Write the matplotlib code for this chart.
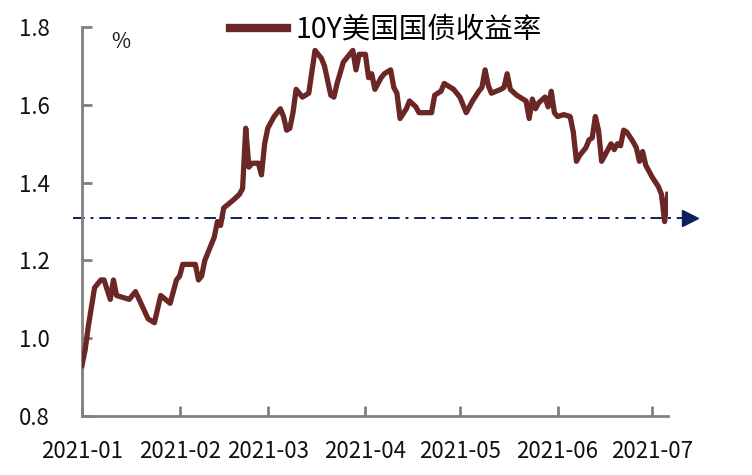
import numpy as np
import pandas as pd
import matplotlib
matplotlib.use("Agg")
from matplotlib import pyplot as plt
import matplotlib.dates as mdates

plt.rcParams['font.family'] = ['Noto Sans CJK SC', 'DejaVu Sans']

#---------------- data ----------------

dates = ["2021-01-01", "2021-01-02", "2021-01-03", "2021-01-05", "2021-01-07",
         "2021-01-08", "2021-01-10", "2021-01-11", "2021-01-12", "2021-01-16",
         "2021-01-18", "2021-01-22", "2021-01-24", "2021-01-26", "2021-01-29",
         "2021-01-31", "2021-02-01", "2021-02-02", "2021-02-06", "2021-02-07",
         "2021-02-08", "2021-02-09", "2021-02-12", "2021-02-13", "2021-02-14",
         "2021-02-15", "2021-02-18", "2021-02-20", "2021-02-21", "2021-02-22",
         "2021-02-23", "2021-02-24", "2021-02-26", "2021-02-27", "2021-02-28",
         "2021-03-01", "2021-03-03", "2021-03-05", "2021-03-06", "2021-03-07",
         "2021-03-08", "2021-03-09", "2021-03-10", "2021-03-11", "2021-03-12",
         "2021-03-14", "2021-03-16", "2021-03-18", "2021-03-19", "2021-03-21",
         "2021-03-22", "2021-03-23", "2021-03-25", "2021-03-27", "2021-03-28",
         "2021-03-29", "2021-03-30", "2021-04-01", "2021-04-02", "2021-04-03",
         "2021-04-04", "2021-04-06", "2021-04-07", "2021-04-09", "2021-04-10",
         "2021-04-11", "2021-04-12", "2021-04-14", "2021-04-15", "2021-04-17",
         "2021-04-18", "2021-04-22", "2021-04-23", "2021-04-25", "2021-04-26",
         "2021-04-27", "2021-04-29", "2021-05-01", "2021-05-03", "2021-05-05",
         "2021-05-07", "2021-05-08", "2021-05-09", "2021-05-10", "2021-05-11",
         "2021-05-14", "2021-05-15", "2021-05-16", "2021-05-17", "2021-05-19",
         "2021-05-20", "2021-05-22", "2021-05-23", "2021-05-24", "2021-05-25",
         "2021-05-26", "2021-05-28", "2021-05-29", "2021-05-30", "2021-05-31",
         "2021-06-01", "2021-06-03", "2021-06-05", "2021-06-06", "2021-06-07",
         "2021-06-08", "2021-06-10", "2021-06-11", "2021-06-12", "2021-06-13",
         "2021-06-14", "2021-06-15", "2021-06-16", "2021-06-18", "2021-06-19",
         "2021-06-20", "2021-06-21", "2021-06-22", "2021-06-23", "2021-06-25",
         "2021-06-26", "2021-06-27", "2021-06-28", "2021-06-29", "2021-07-01",
         "2021-07-03", "2021-07-04", "2021-07-05", "2021-07-06"]

yields = [0.93, 0.97, 1.03, 1.13, 1.15,
          1.15, 1.10, 1.15, 1.11, 1.10,
          1.12, 1.05, 1.04, 1.11, 1.09,
          1.15, 1.16, 1.19, 1.19, 1.15,
          1.16, 1.20, 1.26, 1.30, 1.29,
          1.335, 1.355, 1.37, 1.385, 1.54,
          1.44, 1.45, 1.45, 1.42, 1.50,
          1.54, 1.57, 1.59, 1.57, 1.535,
          1.54, 1.58, 1.64, 1.63, 1.62,
          1.63, 1.74, 1.72, 1.70, 1.625,
          1.62, 1.655, 1.71, 1.73, 1.74,
          1.69, 1.73, 1.73, 1.67, 1.68,
          1.64, 1.67, 1.68, 1.69, 1.645,
          1.63, 1.565, 1.59, 1.61, 1.595,
          1.58, 1.58, 1.625, 1.635, 1.655,
          1.65, 1.64, 1.62, 1.58, 1.61,
          1.635, 1.645, 1.69, 1.65, 1.63,
          1.64, 1.645, 1.68, 1.64, 1.625,
          1.62, 1.61, 1.565, 1.615, 1.59,
          1.605, 1.62, 1.595, 1.635, 1.58,
          1.57, 1.575, 1.57, 1.53, 1.455,
          1.47, 1.49, 1.51, 1.515, 1.57,
          1.535, 1.455, 1.47, 1.50, 1.485,
          1.50, 1.495, 1.535, 1.53, 1.505,
          1.49, 1.455, 1.48, 1.445, 1.415,
          1.39, 1.37, 1.30, 1.37]

ref_level = 1.31
ref_span = ["2020-12-29", "2021-07-11"]
arrow_date = "2021-07-13"

series_name = "10Y美国国债收益率"
x_ticks = ["2021-01-01", "2021-02-01", "2021-03-01", "2021-04-01",
           "2021-05-01", "2021-06-01", "2021-07-01"]
x_labels = ["2021-01", "2021-02", "2021-03", "2021-04",
            "2021-05", "2021-06", "2021-07"]
y_ticks = [0.8, 1.0, 1.2, 1.4, 1.6, 1.8]

#---------------- figure ----------------

fig = plt.figure(figsize=(7.52, 4.75), dpi=100)
ax = fig.add_axes([0.109, 0.124, 0.779, 0.819])

t = pd.to_datetime(dates)
line, = ax.plot(t, yields, color="#6b2626", lw=3.8, solid_joinstyle="round",
                label=series_name, zorder=3)

# reference line with arrow head
ax.plot(pd.to_datetime(ref_span), [ref_level, ref_level], color="#0c1f5c",
        lw=1.4, ls=(0, (6, 3, 1.5, 3)), clip_on=False, zorder=2)
ax.plot([pd.to_datetime(arrow_date)], [ref_level], marker=">", ms=12,
        color="#0c1f5c", clip_on=False, zorder=2)

ax.set_xlim(pd.Timestamp("2021-01-01"), pd.Timestamp("2021-07-06"))
ax.set_ylim(0.8, 1.8)
ax.set_xticks(pd.to_datetime(x_ticks))
ax.set_xticklabels(x_labels)
ax.set_yticks(y_ticks)
ax.set_yticklabels(["%.1f" % v for v in y_ticks])

for s in ["top", "right"]:
    ax.spines[s].set_visible(False)
for s in ["left", "bottom"]:
    ax.spines[s].set_color("#808080")
    ax.spines[s].set_linewidth(2)

ax.tick_params(axis="both", direction="in", color="#808080", width=2,
               length=7, labelsize=16, labelcolor="#111111")
ax.tick_params(axis="y", pad=23)
ax.tick_params(axis="x", pad=17)

ax.text(0.05, 0.99, "%", transform=ax.transAxes, fontsize=15,
        ha="left", va="top", color="#111111")

leg = fig.legend(handles=[line], loc="center", bbox_to_anchor=(0.513, 0.937),
                 frameon=False, fontsize=20.5, handlelength=2.0,
                 handletextpad=0.3, borderaxespad=0)
leg.get_lines()[0].set_linewidth(6)

fig.savefig("out.png", dpi=100)
